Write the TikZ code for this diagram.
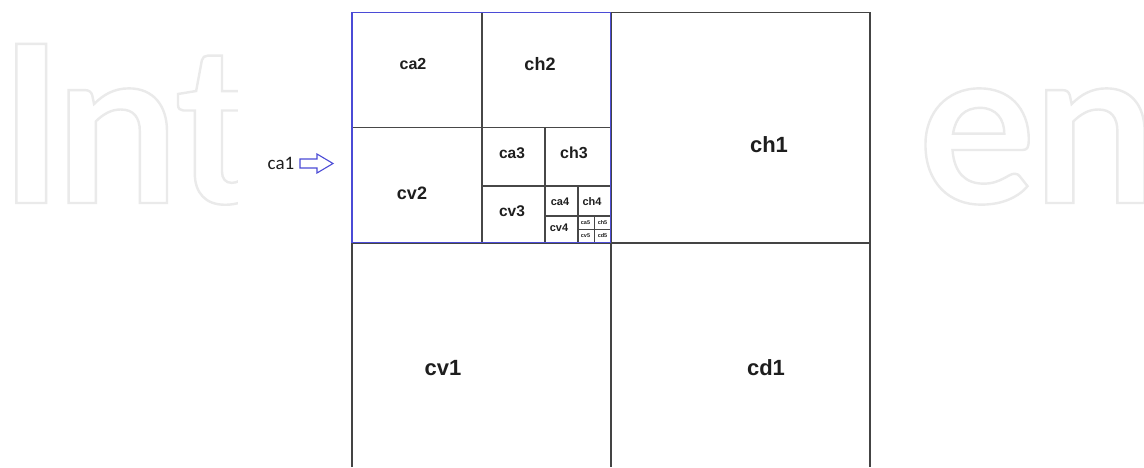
\documentclass[tikz,border=0pt]{standalone}
\usepackage{fontspec}
\setmainfont{Liberation Sans}
\newfontfamily\wmfont{Lato}
\newfontfamily\calfont{Carlito}
\definecolor{gridline}{HTML}{474747}
\definecolor{frameline}{HTML}{444444}
\definecolor{boxblue}{HTML}{4B4BD6}
\definecolor{wmgray}{HTML}{EAEAEA}
\definecolor{labeltext}{HTML}{1E1E1E}
\begin{document}
\begin{tikzpicture}[x=1pt,y=-1pt,
  lbl/.style={font=\bfseries, text=labeltext, inner sep=0pt},
  wm/.style={anchor=base west, inner sep=0pt, text=wmgray, font=\wmfont\bfseries\fontsize{220}{220}\selectfont},
  grid/.style={draw=gridline, line width=1.3pt},
  frame/.style={draw=frameline, line width=1.8pt},
  bluebox/.style={draw=boxblue, line width=1.5pt},
  hollowarrow/.style={draw=boxblue, line width=1.1pt, fill=white, line join=miter}
]
\useasboundingbox (0,0) rectangle (1144,467);
\fill[white] (0,0) rectangle (1144,467);
% watermark (outlined letters)
\begin{scope}[line width=2.4pt]
\node[wm] (wmleft) at (-2.5,203) {\special{pdf:literal direct 1 Tr}I\kern-9pt n\kern-5pt t\special{pdf:literal direct 0 Tr}};
\node[wm] (wmright) at (917,203) {\special{pdf:literal direct 1 Tr}e\kern-3pt n\special{pdf:literal direct 0 Tr}};
\end{scope}
\fill[white] (238,0) rectangle (915,467);
% outer frame
\draw[frame] (352,467) -- (352,12.5) -- (870,12.5) -- (870,467);
\draw[frame] (611,12.5) -- (611,467);
\draw[frame] (352,243) -- (870,243);
% subdivisions
\draw[grid] (482,12.5) -- (482,242.5);
\draw[grid] (352,127.3) -- (610.5,127.3);
\draw[grid] (545,127.3) -- (545,242.5);
\draw[grid] (482,186) -- (610.5,186);
\draw[grid] (578,186) -- (578,242.5);
\draw[grid] (545,216) -- (610.5,216);
\draw[grid, line width=1pt] (594,216) -- (594,242.5);
\draw[grid, line width=1pt] (578,229) -- (610.5,229);
% blue box
\draw[bluebox] (352,12.5) rectangle (610.5,242.5);
% labels
\node[lbl, font=\bfseries\fontsize{16}{16}\selectfont] (ca2) at (413,64) {ca2};
\node[lbl, font=\bfseries\fontsize{18}{18}\selectfont] (ch2) at (540,64) {ch2};
\node[lbl, font=\bfseries\fontsize{18}{18}\selectfont] (cv2) at (412,193) {cv2};
\node[lbl, font=\bfseries\fontsize{15.5}{15.5}\selectfont] (ca3) at (512,153) {ca3};
\node[lbl, font=\bfseries\fontsize{16}{16}\selectfont] (ch3) at (574,153) {ch3};
\node[lbl, font=\bfseries\fontsize{15.5}{15.5}\selectfont] (cv3) at (512,211) {cv3};
\node[lbl, font=\bfseries\fontsize{11}{11}\selectfont] (ca4) at (560,202) {ca4};
\node[lbl, font=\bfseries\fontsize{11}{11}\selectfont] (ch4) at (592,202) {ch4};
\node[lbl, font=\bfseries\fontsize{11}{11}\selectfont] (cv4) at (559,228) {cv4};
\node[lbl, font=\bfseries\fontsize{5.5}{5.5}\selectfont] (ca5) at (585.5,222.5) {ca5};
\node[lbl, font=\bfseries\fontsize{5.5}{5.5}\selectfont] (ch5) at (602.5,222.5) {ch5};
\node[lbl, font=\bfseries\fontsize{5.5}{5.5}\selectfont] (cv5) at (585.5,236) {cv5};
\node[lbl, font=\bfseries\fontsize{5.5}{5.5}\selectfont] (cd5) at (602.5,236) {cd5};
\node[lbl, font=\bfseries\fontsize{22}{22}\selectfont] (ch1) at (769,145) {ch1};
\node[lbl, font=\bfseries\fontsize{22}{22}\selectfont] (cv1) at (443,368) {cv1};
\node[lbl, font=\bfseries\fontsize{22}{22}\selectfont] (cd1) at (766,368) {cd1};
% ca1 pointer
\node[inner sep=0pt, text=labeltext, font=\calfont\fontsize{19}{19}\selectfont] (ca1) at (281,163) {ca1};
\draw[hollowarrow] (300,159) -- (317,159) -- (317,154) -- (333,163.5) -- (317,173) -- (317,168) -- (300,168) -- cycle;
\end{tikzpicture}
\end{document}
